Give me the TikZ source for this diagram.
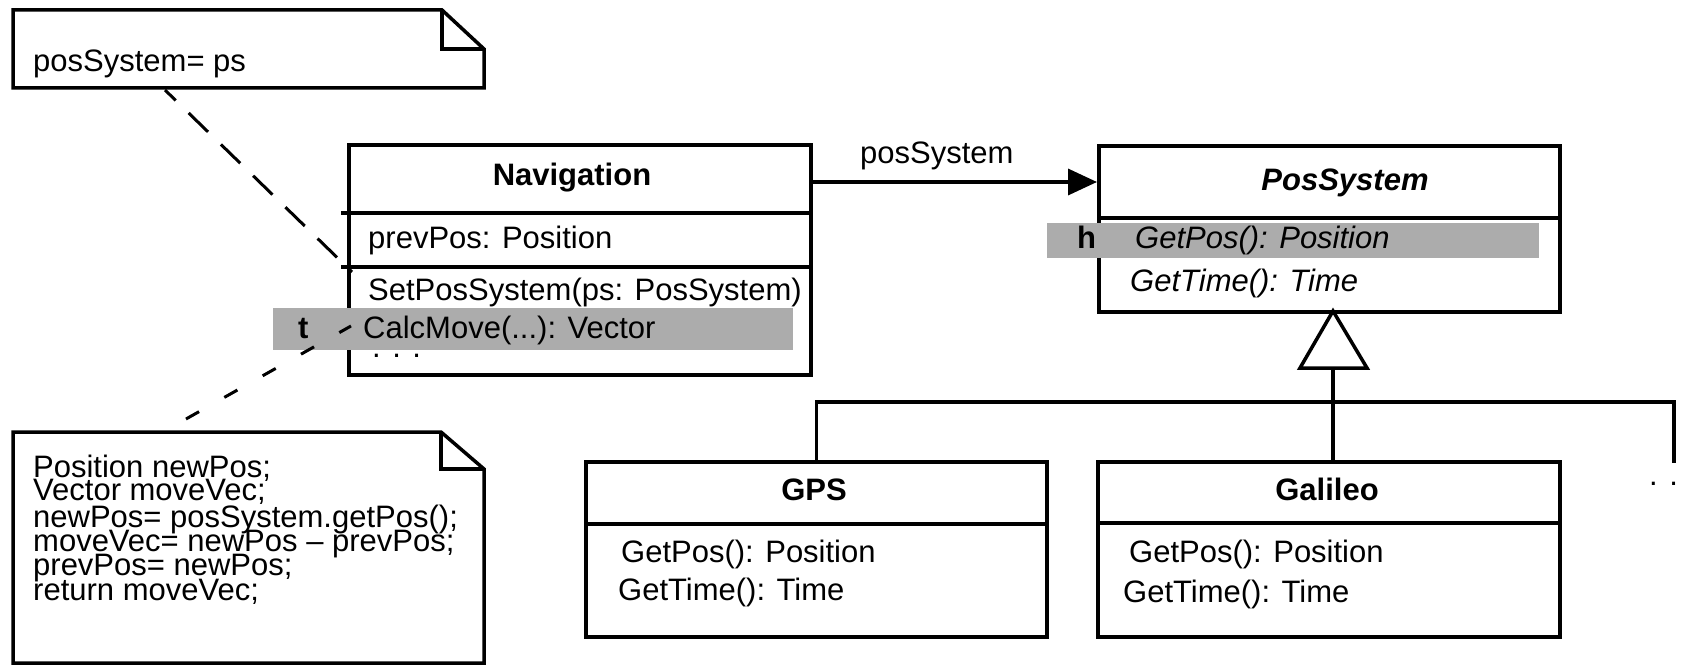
\documentclass[tikz,border=0pt]{standalone}
\usepackage{fontspec}
\setmainfont{Liberation Sans}
\usetikzlibrary{arrows.meta}
\definecolor{bandgray}{RGB}{172,172,172}
\tikzset{
  ln/.style={line width=3.5pt},
  box/.style={draw, ln, inner sep=0pt, anchor=north west, rectangle},
  notebox/.style={draw, ln, line join=miter, fill=white},
  lbl/.style={inner sep=0pt, anchor=base west, font=\fontsize{31}{25}\selectfont},
  lblb/.style={inner sep=0pt, anchor=base west, font=\fontsize{31}{25}\selectfont\bfseries},
  lbli/.style={inner sep=0pt, anchor=base west, font=\fontsize{31}{25}\selectfont\itshape},
  ttl/.style={inner sep=0pt, anchor=base, font=\fontsize{31}{25}\selectfont\bfseries},
  ttli/.style={inner sep=0pt, anchor=base, font=\fontsize{31}{25}\selectfont\bfseries\itshape},
  band/.style={fill=bandgray, draw=none},
  dashA/.style={line width=3pt, dash pattern=on 27pt off 18pt, dash phase=12pt},
  dashB/.style={line width=3pt, dash pattern=on 15pt off 29pt},
  assoc/.style={ln, -{Triangle[length=29pt,width=26pt]}},
}
\begin{document}
\begin{tikzpicture}[x=1pt,y=-1pt]
\useasboundingbox (0,0) rectangle (1691,666);

% notes
\draw[notebox] (13,10) -- (442,10) -- (484,49) -- (484,88) -- (13,88) -- cycle;
\draw[ln, line join=miter] (442,10) -- (442,49) -- (484,49);
\draw[notebox] (13,432) -- (441,432) -- (484,469) -- (484,663) -- (13,663) -- cycle;
\draw[ln, line join=miter] (441,432) -- (441,469) -- (484,469);

% class boxes
\node[box, minimum width=462pt, minimum height=230pt] (nav) at (347,143) {};
\node[box, minimum width=461pt, minimum height=166pt] (pos) at (1097,144) {};
\node[box, minimum width=461pt, minimum height=175pt] (gps) at (584,460) {};
\node[box, minimum width=462pt, minimum height=175pt] (gal) at (1096,460) {};

% compartments
\draw[ln] (341,213) -- (809,213);
\draw[ln] (341,267) -- (809,267);
\draw[ln] (1097,218) -- (1558,218);
\draw[ln] (584,524) -- (1045,524);
\draw[ln] (1096,523) -- (1558,523);

% highlight bands
\fill[band] (273,308) rectangle (793,350);
\fill[band] (1047,223) rectangle (1539,258);

% note anchors (dashed)
\coordinate (d1a) at (165,90);
\coordinate (d1b) at (352,272);
\draw[dashA] (d1a) -- (d1b);
\coordinate (d2a) at (186,419);
\coordinate (d2b) at (351,326);
\draw[dashB] (d2a) -- (d2b);

% association
\coordinate (navR) at (809,182);
\coordinate (posL) at (1097,182);
\draw[assoc] (navR) -- (posL);
\node[lbl] (assocL) at (860,163) {posSystem};

% generalization
\coordinate (apex) at (1333,311);
\coordinate (triB) at (1333,368);
\coordinate (bus) at (1333,402);
\coordinate (more) at (1674,463);
\draw[ln, fill=white, line join=miter] (apex) -- (1367,368) -- (1300,368) -- cycle;
\draw[ln] (triB) -- (bus);
\draw[ln] (gps.north) |- (more |- bus) -- (more);
\draw[ln] (bus) -- (bus |- gal.north);
\node[lbl] (moreDots) at (1649,485) {. . .};

% texts
\node[lbl] (n1t) at (33,72) {posSystem= ps};
\node[lbl] (n2a) at (33,477) {Position newPos;};
\node[lbl] (n2b) at (33,500) {Vector moveVec;};
\node[lbl] (n2c) at (33,527) {newPos= posSystem.getPos();};
\node[lbl] (n2d) at (33,551) {moveVec= newPos – prevPos;};
\node[lbl] (n2e) at (33,575) {prevPos= newPos;};
\node[lbl] (n2f) at (33,600) {return moveVec;};

\node[ttl] (navT) at (572,185) {Navigation};
\node[lbl] (navA) at (368,248) {prevPos: Position};
\node[lbl] (navM1) at (368,300) {SetPosSystem(ps: PosSystem)};
\node[lbl] (navM2) at (363,338) {CalcMove(...): Vector};
\node[lblb] (navt) at (298,338) {t};
\node[lbl] (navDots) at (372,357) {. . .};

\node[ttli] (posT) at (1345,190) {PosSystem};
\node[lblb] (posh) at (1077,248) {h};
\node[lbli] (posM1) at (1135,248) {GetPos(): Position};
\node[lbli] (posM2) at (1130,291) {GetTime(): Time};

\node[ttl] (gpsT) at (814,500) {GPS};
\node[lbl] (gpsM1) at (621,562) {GetPos(): Position};
\node[lbl] (gpsM2) at (618,600) {GetTime(): Time};

\node[ttl] (galT) at (1327,500) {Galileo};
\node[lbl] (galM1) at (1129,562) {GetPos(): Position};
\node[lbl] (galM2) at (1123,602) {GetTime(): Time};
\end{tikzpicture}
\end{document}
